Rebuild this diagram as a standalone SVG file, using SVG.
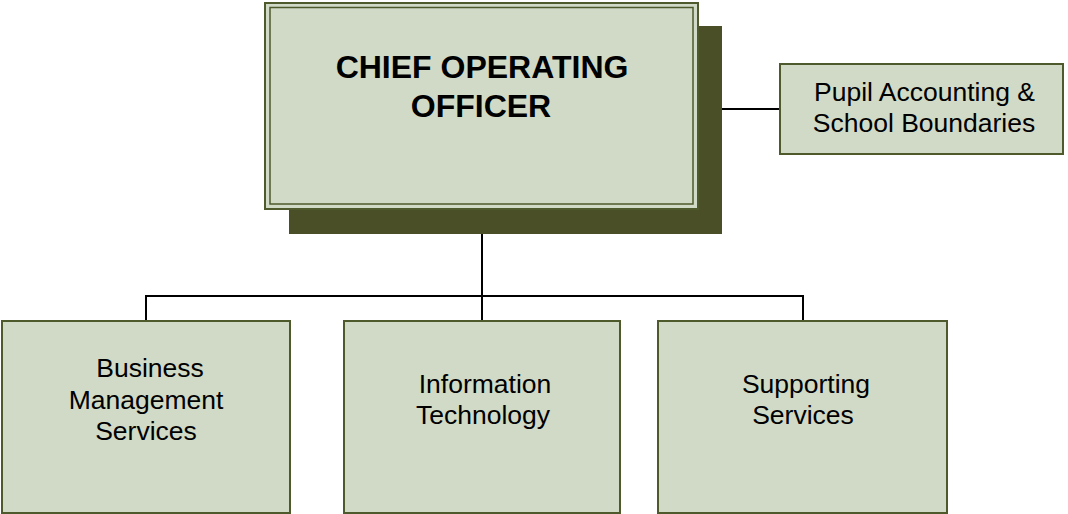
<svg xmlns="http://www.w3.org/2000/svg" width="1068" height="514" viewBox="0 0 1068 514">
<style>
.box{fill:#d1dac6;stroke:#4e5a2c;stroke-width:2}
.inner{fill:none;stroke:#4e5a2c;stroke-width:1.5}
.shadow{fill:#4a4f27}
.conn{fill:none;stroke:#000;stroke-width:2}
.t{font-family:"Liberation Sans",Arial,sans-serif;font-size:26.5px;fill:#000;text-anchor:middle}
.title{font-family:"Liberation Sans",Arial,sans-serif;font-size:32px;font-weight:bold;fill:#000;text-anchor:middle}
</style>
<rect width="1068" height="514" fill="#fff"/>
<g id="connectors">
<line class="conn" x1="482" y1="234" x2="482" y2="322"/>
<polyline class="conn" points="146,322 146,296 803,296 803,322"/>
<line class="conn" x1="722" y1="109" x2="780" y2="109"/>
</g>
<g id="coo">
<rect class="shadow" x="289" y="26" width="433" height="208"/>
<rect class="box" x="265" y="3" width="433" height="206"/>
<rect class="inner" x="270" y="7.5" width="423" height="196.5"/>
<text class="title" x="482" y="78">CHIEF OPERATING</text>
<text class="title" x="481" y="117">OFFICER</text>
</g>
<g id="pupil">
<rect class="box" x="780" y="64" width="283" height="90"/>
<text class="t" x="924.5" y="101">Pupil Accounting &amp;</text>
<text class="t" x="924" y="132">School Boundaries</text>
</g>
<g id="business">
<rect class="box" x="2" y="321" width="288" height="192"/>
<text class="t" x="150" y="377">Business</text>
<text class="t" x="146" y="409">Management</text>
<text class="t" x="146" y="440">Services</text>
</g>
<g id="it">
<rect class="box" x="344" y="321" width="276" height="192"/>
<text class="t" x="485" y="393">Information</text>
<text class="t" x="483" y="424">Technology</text>
</g>
<g id="supporting">
<rect class="box" x="658" y="321" width="289" height="192"/>
<text class="t" x="806" y="393">Supporting</text>
<text class="t" x="803" y="424">Services</text>
</g>
</svg>
